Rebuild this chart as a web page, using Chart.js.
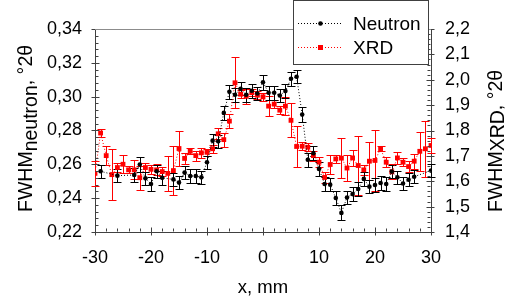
<!DOCTYPE html>
<html><head><meta charset="utf-8">
<script src="https://cdn.jsdelivr.net/npm/chart.js@4"></script>
<style>html,body{margin:0;padding:0;background:#fff;} canvas{display:block;}</style>
</head><body>
<canvas id="c" width="507" height="303" style="width:507px;height:303px"></canvas>
<script>
// ---- data ----
const seriesNames = ['Neutron', 'XRD'];
const neutronX = [-29,-26,-23,-22,-21,-20,-19,-18,-16,-15,-14,-13,-12,-11,-10,-9,-8,-7,-6,-5,-4,-3,-2,-1,0,1,2,3,4,5,6,7,8,9,10,11,12,13,14,15,16,17,18,19,20,21,22,23,24,25,26,27,30];
const neutronY = [0.2559,0.2533,0.2537,0.2599,0.2517,0.2484,0.2559,0.2520,0.2511,0.2492,0.2551,0.2531,0.2531,0.2523,0.2612,0.2740,0.2736,0.2904,0.3029,0.3011,0.3047,0.3011,0.3035,0.3019,0.3085,0.3023,0.3023,0.3007,0.3033,0.3106,0.3118,0.2894,0.2627,0.2666,0.2573,0.2484,0.2480,0.2401,0.2313,0.2404,0.2424,0.2454,0.2514,0.2468,0.2478,0.2490,0.2484,0.2557,0.2523,0.2487,0.2509,0.2527,0.2563];
const neutronErr = [0.004,0.004,0.004,0.0045,0.004,0.004,0.004,0.004,0.004,0.004,0.004,0.004,0.004,0.004,0.004,0.004,0.004,0.004,0.004,0.004,0.004,0.004,0.004,0.004,0.0045,0.004,0.004,0.004,0.004,0.004,0.004,0.0045,0.004,0.004,0.004,0.004,0.004,0.004,0.0045,0.004,0.004,0.004,0.004,0.004,0.004,0.004,0.004,0.004,0.004,0.004,0.004,0.004,0.004];
const xrdX = [-30,-29,-28,-27,-26,-25,-24,-23,-22,-21,-20,-19,-18,-17,-16,-15,-14,-13,-12,-11,-10,-9,-8,-7,-6,-5,-4,-3,-2,-1,0,1,2,3,4,5,6,7,8,9,10,11,12,13,14,15,16,17,18,19,20,21,22,23,24,25,26,27,28,29,30];
const xrdY = [1.631,1.790,1.701,1.626,1.654,1.667,1.645,1.645,1.614,1.654,1.647,1.645,1.638,1.631,1.642,1.729,1.690,1.718,1.701,1.712,1.714,1.728,1.787,1.764,1.837,1.988,1.943,1.935,1.949,1.939,1.933,1.896,1.904,1.880,1.896,1.840,1.737,1.738,1.734,1.701,1.675,1.615,1.666,1.688,1.691,1.652,1.692,1.662,1.645,1.679,1.682,1.728,1.675,1.637,1.692,1.675,1.658,1.679,1.718,1.728,1.741];
const xrdErr = [0.05,0.017,0.037,0.10,0.016,0.036,0.014,0.038,0.048,0.017,0.017,0.022,0.017,0.07,0.095,0.07,0.022,0.012,0.02,0.02,0.015,0.015,0.022,0.028,0.028,0.10,0.015,0.03,0.015,0.015,0.015,0.04,0.015,0.015,0.036,0.067,0.08,0.015,0.015,0.02,0.02,0.02,0.036,0.015,0.08,0.05,0.03,0.118,0.02,0.074,0.12,0.01,0.02,0.03,0.025,0.015,0.02,0.03,0.076,0.11,0.03];
const xTicks = [-30,-20,-10,0,10,20,30];
const leftTicks = [0.22,0.24,0.26,0.28,0.30,0.32,0.34];
const rightTicks = [1.4,1.5,1.6,1.7,1.8,1.9,2.0,2.1,2.2];
const xTitle = 'x, mm';
const leftTitle = ['FWHM', 'neutron', ', °2θ'];
const rightTitle = ['FWHM', 'XRD', ', °2θ'];

// ---- styling ----
const FONT = "'Liberation Sans', Arial, sans-serif";
const AXIS = '#404040';
const RED = '#ff0000';
const BLACK = '#000000';

const fmt = (d) => (v) => Number(v).toFixed(d).replace('.', ',');
const setTicks = (vals) => (s) => { s.ticks = vals.map(v => ({ value: v })); };

function errBars(ctx, chart, xs, ys, es, yId, color) {
  const sx = chart.scales.x, sy = chart.scales[yId];
  ctx.save();
  ctx.strokeStyle = color; ctx.lineWidth = 1;
  for (let i = 0; i < xs.length; i++) {
    const px = Math.round(sx.getPixelForValue(xs[i])) + 0.5;
    const p1 = Math.round(sy.getPixelForValue(ys[i] + es[i])) + 0.5;
    const p2 = Math.round(sy.getPixelForValue(ys[i] - es[i])) + 0.5;
    ctx.beginPath();
    ctx.moveTo(px, p1); ctx.lineTo(px, p2);
    ctx.moveTo(px - 4, p1); ctx.lineTo(px + 4, p1);
    ctx.moveTo(px - 4, p2); ctx.lineTo(px + 4, p2);
    ctx.stroke();
  }
  ctx.restore();
}

function drawRot(ctx, parts, xBase, yBottom, size, dys) {
  ctx.save();
  ctx.translate(xBase, yBottom);
  ctx.rotate(-Math.PI / 2);
  ctx.fillStyle = '#000';
  ctx.textAlign = 'left'; ctx.textBaseline = 'alphabetic';
  ctx.font = size + 'px ' + FONT;
  let cx = 0;
  parts.forEach((t, i) => { ctx.fillText(t, cx, dys[i]); cx += ctx.measureText(t).width; });
  ctx.restore();
}

const decor = {
  id: 'decor',
  beforeDatasetsDraw(chart) {
    const ctx = chart.ctx;
    errBars(ctx, chart, xrdX, xrdY, xrdErr, 'y1', RED);
    errBars(ctx, chart, neutronX, neutronY, neutronErr, 'y', BLACK);
  },
  afterDraw(chart) {
    const ctx = chart.ctx, a = chart.chartArea;
    const sx = chart.scales.x, sy = chart.scales.y, sy1 = chart.scales.y1;
    ctx.save();
    ctx.strokeStyle = AXIS; ctx.lineWidth = 1;
    ctx.beginPath();
    const L = Math.round(a.left) + 0.5, R = Math.round(a.right) - 0.5, B = Math.round(a.bottom) - 0.5;
    for (let i = 0; i < xTicks.length; i++) {
      const p = Math.round(sx.getPixelForValue(xTicks[i])) + 0.5;
      ctx.moveTo(p, B - 4); ctx.lineTo(p, B + 4);
      if (i < xTicks.length - 1) for (let j = 1; j < 5; j++) {
        const q = Math.round(sx.getPixelForValue(xTicks[i] + (xTicks[i + 1] - xTicks[i]) * j / 5)) + 0.5;
        ctx.moveTo(q, B - 3); ctx.lineTo(q, B);
      }
    }
    for (let i = 0; i < leftTicks.length; i++) {
      const p = Math.round(sy.getPixelForValue(leftTicks[i])) + 0.5;
      ctx.moveTo(L - 4, p); ctx.lineTo(L + 4, p);
      if (i < leftTicks.length - 1) for (let j = 1; j < 5; j++) {
        const q = Math.round(sy.getPixelForValue(leftTicks[i] + (leftTicks[i + 1] - leftTicks[i]) * j / 5)) + 0.5;
        ctx.moveTo(L, q); ctx.lineTo(L + 3, q);
      }
    }
    for (let i = 0; i < rightTicks.length; i++) {
      const p = Math.round(sy1.getPixelForValue(rightTicks[i])) + 0.5;
      ctx.moveTo(R - 4, p); ctx.lineTo(R + 4, p);
      if (i < rightTicks.length - 1) for (let j = 1; j < 5; j++) {
        const q = Math.round(sy1.getPixelForValue(rightTicks[i] + (rightTicks[i + 1] - rightTicks[i]) * j / 5)) + 0.5;
        ctx.moveTo(R - 3, q); ctx.lineTo(R, q);
      }
    }
    ctx.stroke();
    ctx.strokeStyle = '#8c8c8c';
    ctx.beginPath();
    ctx.moveTo(a.left, Math.round(a.top) + 0.5); ctx.lineTo(a.right, Math.round(a.top) + 0.5);
    ctx.stroke();

    // legend
    ctx.fillStyle = '#fff';
    ctx.fillRect(293.5, 0.5, 135, 64);
    ctx.strokeStyle = '#404040';
    ctx.strokeRect(293.5, 0.5, 135, 64);
    const rows = [{ y: 23.5, c: BLACK, shape: 'c' }, { y: 47.5, c: RED, shape: 's' }];
    rows.forEach((r, i) => {
      ctx.strokeStyle = r.c; ctx.setLineDash([1, 2]);
      ctx.beginPath(); ctx.moveTo(298, r.y); ctx.lineTo(343, r.y); ctx.stroke();
      ctx.setLineDash([]);
      ctx.fillStyle = r.c;
      if (r.shape === 'c') { ctx.beginPath(); ctx.arc(320.5, r.y, 2.3, 0, Math.PI * 2); ctx.fill(); }
      else ctx.fillRect(318, r.y - 2.5, 5, 5);
      ctx.fillStyle = '#000';
      ctx.font = '19px ' + FONT;
      ctx.textAlign = 'left'; ctx.textBaseline = 'alphabetic';
      ctx.fillText(seriesNames[i], 353, i === 0 ? 30 : 54);
    });

    // axis titles
    ctx.fillStyle = '#000';
    ctx.font = '18.5px ' + FONT;
    ctx.textAlign = 'center'; ctx.textBaseline = 'alphabetic';
    ctx.fillText(xTitle, (a.left + a.right) / 2, 293);
    drawRot(ctx, leftTitle, 32, 212, 19.5, [0, 5, 0]);
    drawRot(ctx, rightTitle, 502, 212, 19.5, [0, 1.5, 0]);
    ctx.restore();
  }
};

const tickFont = { family: FONT, size: 18 };
new Chart(document.getElementById('c'), {
  type: 'line',
  data: {
    datasets: [
      {
        label: seriesNames[0], yAxisID: 'y',
        data: neutronX.map((x, i) => ({ x, y: neutronY[i] })),
        borderColor: BLACK, backgroundColor: BLACK, borderWidth: 1, borderDash: [1, 2],
        pointStyle: 'circle', pointRadius: 2.3, pointBorderWidth: 0, pointBackgroundColor: BLACK,
        tension: 0, fill: false
      },
      {
        label: seriesNames[1], yAxisID: 'y1',
        data: xrdX.map((x, i) => ({ x, y: xrdY[i] })),
        borderColor: RED, backgroundColor: RED, borderWidth: 1, borderDash: [1, 2],
        pointStyle: 'rect', pointRadius: 3.4, pointBorderWidth: 0, pointBackgroundColor: RED,
        tension: 0, fill: false
      }
    ]
  },
  options: {
    responsive: false, animation: false, devicePixelRatio: 1,
    layout: { padding: { top: 29, left: 0, right: 0, bottom: 0 } },
    plugins: { legend: { display: false }, tooltip: { enabled: false } },
    scales: {
      x: {
        type: 'linear', position: 'bottom', min: -30, max: 30,
        afterBuildTicks: setTicks(xTicks),
        afterFit: (s) => { s.height = 71; },
        grid: { display: false, drawTicks: false },
        border: { display: true, color: AXIS, width: 1 },
        ticks: { font: tickFont, color: '#000', padding: 15, maxRotation: 0, autoSkip: false, callback: (v) => String(v) }
      },
      y: {
        type: 'linear', position: 'left', min: 0.22, max: 0.34,
        afterBuildTicks: setTicks(leftTicks),
        afterFit: (s) => { s.width = 95; },
        grid: { display: false, drawTicks: false },
        border: { display: true, color: AXIS, width: 1 },
        ticks: { font: tickFont, color: '#000', padding: 13, autoSkip: false, callback: fmt(2) }
      },
      y1: {
        type: 'linear', position: 'right', min: 1.4, max: 2.2,
        afterBuildTicks: setTicks(rightTicks),
        afterFit: (s) => { s.width = 76; },
        grid: { display: false, drawTicks: false },
        border: { display: true, color: AXIS, width: 1 },
        ticks: { font: tickFont, color: '#000', padding: 14, autoSkip: false, callback: fmt(1) }
      }
    }
  },
  plugins: [decor]
});
</script>
</body></html>
